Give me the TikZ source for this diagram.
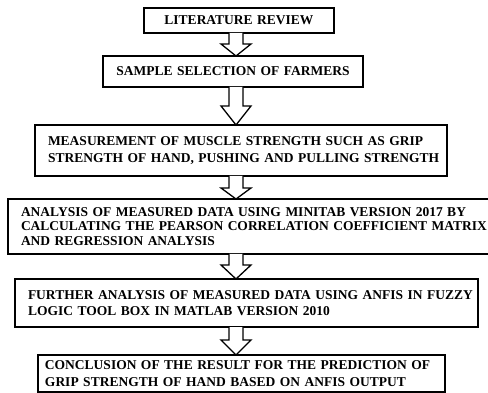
\documentclass[tikz,border=0pt]{standalone}
\usepackage{fontspec}
\setmainfont{Liberation Serif}
\usetikzlibrary{calc}
\newcommand\blockarrow[3]{%
  \draw[barrow] ($(ax |- #1.south)+(-7,0)$) -- ($(ax |- #2.north)+(-7,-#3)$)
    -- ($(ax |- #2.north)+(-15,-#3)$) -- (ax |- #2.north)
    -- ($(ax |- #2.north)+(15,-#3)$) -- ($(ax |- #2.north)+(7,-#3)$)
    -- ($(ax |- #1.south)+(7,0)$);}
\begin{document}
\begin{tikzpicture}[x=1pt,y=-1pt,
  box/.style={draw, line width=1.6pt, font=\bfseries\fontsize{13.5}{16.5}\selectfont,
    anchor=north west, inner ysep=0pt, outer sep=0pt},
  barrow/.style={draw, line width=1.3pt, fill=white, line join=miter}]
\useasboundingbox (0,0) rectangle (488,393);
\coordinate (ax) at (236,0);
\node[box, align=center, minimum width=190, minimum height=25, inner xsep=4, text width=182] (b1) at (144,8) {LITERATURE REVIEW};
\node[box, align=center, minimum width=260, minimum height=31, inner xsep=4, text width=252] (b2) at (103,56) {SAMPLE SELECTION OF FARMERS};
\node[box, align=left, minimum width=412, minimum height=51, inner xsep=13, text width=386] (b3) at (35,125) {\mbox{MEASUREMENT OF MUSCLE STRENGTH SUCH AS GRIP}\\\mbox{STRENGTH OF HAND, PUSHING AND PULLING STRENGTH}};
\node[box, align=left, minimum width=487, minimum height=55, inner xsep=13, text width=461, font=\bfseries\fontsize{13.5}{14.5}\selectfont] (b4) at (8,199) {\mbox{ANALYSIS OF MEASURED DATA USING MINITAB VERSION 2017 BY}\\\mbox{CALCULATING THE PEARSON CORRELATION COEFFICIENT MATRIX}\\\mbox{AND REGRESSION ANALYSIS}};
\node[box, align=left, minimum width=463, minimum height=48, inner xsep=13, text width=437] (b5) at (15,279) {\mbox{FURTHER ANALYSIS OF MEASURED DATA USING ANFIS IN FUZZY}\\\mbox{LOGIC TOOL BOX IN MATLAB VERSION 2010}};
\node[box, align=left, minimum width=407, minimum height=37, inner xsep=7, text width=393] (b6) at (38,355) {\mbox{CONCLUSION OF THE RESULT FOR THE PREDICTION OF}\\\mbox{GRIP STRENGTH OF HAND BASED ON ANFIS OUTPUT}};
\blockarrow{b1}{b2}{12}
\blockarrow{b2}{b3}{19}
\blockarrow{b3}{b4}{11}
\blockarrow{b4}{b5}{14}
\blockarrow{b5}{b6}{15}
\end{tikzpicture}
\end{document}
